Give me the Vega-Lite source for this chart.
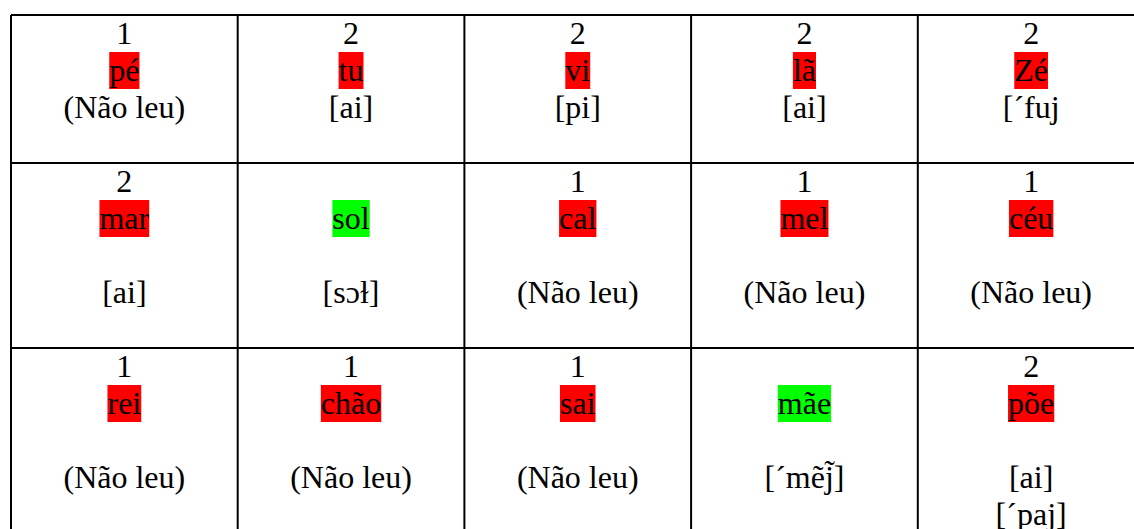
{
  "$schema": "https://vega.github.io/schema/vega-lite/v6.json",
  "width": 1134,
  "height": 529,
  "autosize": {"type": "none"},
  "padding": 0,
  "background": "white",
  "config": {"view": {"stroke": null}},
  "datasets": {
    "grade": [
      {"x0": 0.5, "x1": 0.5, "y0": 0.5, "y1": 15},
      {"x0": 1.5, "x1": 1.5, "y0": 0.5, "y1": 15},
      {"x0": 2.5, "x1": 2.5, "y0": 0.5, "y1": 15},
      {"x0": 3.5, "x1": 3.5, "y0": 0.5, "y1": 15},
      {"x0": 4.5, "x1": 4.5, "y0": 0.5, "y1": 15},
      {"x0": 0.5, "x1": 6, "y0": 0.5, "y1": 0.5},
      {"x0": 0.5, "x1": 6, "y0": 4.5, "y1": 4.5},
      {"x0": 0.5, "x1": 6, "y0": 9.5, "y1": 9.5}
    ],
    "celulas": [
      {"col": 1, "linha": 1, "texto": "1"},
      {"col": 1, "linha": 2, "texto": "pé", "status": "erro"},
      {"col": 1, "linha": 3, "texto": "(Não leu)"},
      {"col": 2, "linha": 1, "texto": "2"},
      {"col": 2, "linha": 2, "texto": "tu", "status": "erro"},
      {"col": 2, "linha": 3, "texto": "[ai]"},
      {"col": 3, "linha": 1, "texto": "2"},
      {"col": 3, "linha": 2, "texto": "vi", "status": "erro"},
      {"col": 3, "linha": 3, "texto": "[pi]"},
      {"col": 4, "linha": 1, "texto": "2"},
      {"col": 4, "linha": 2, "texto": "lã", "status": "erro"},
      {"col": 4, "linha": 3, "texto": "[ai]"},
      {"col": 5, "linha": 1, "texto": "2"},
      {"col": 5, "linha": 2, "texto": "Zé", "status": "erro"},
      {"col": 5, "linha": 3, "texto": "[´fuj"},
      {"col": 1, "linha": 5, "texto": "2"},
      {"col": 1, "linha": 6, "texto": "mar", "status": "erro"},
      {"col": 1, "linha": 8, "texto": "[ai]"},
      {"col": 2, "linha": 6, "texto": "sol", "status": "acerto"},
      {"col": 2, "linha": 8, "texto": "[sɔɫ]"},
      {"col": 3, "linha": 5, "texto": "1"},
      {"col": 3, "linha": 6, "texto": "cal", "status": "erro"},
      {"col": 3, "linha": 8, "texto": "(Não leu)"},
      {"col": 4, "linha": 5, "texto": "1"},
      {"col": 4, "linha": 6, "texto": "mel", "status": "erro"},
      {"col": 4, "linha": 8, "texto": "(Não leu)"},
      {"col": 5, "linha": 5, "texto": "1"},
      {"col": 5, "linha": 6, "texto": "céu", "status": "erro"},
      {"col": 5, "linha": 8, "texto": "(Não leu)"},
      {"col": 1, "linha": 10, "texto": "1"},
      {"col": 1, "linha": 11, "texto": "rei", "status": "erro"},
      {"col": 1, "linha": 13, "texto": "(Não leu)"},
      {"col": 2, "linha": 10, "texto": "1"},
      {"col": 2, "linha": 11, "texto": "chão", "status": "erro"},
      {"col": 2, "linha": 13, "texto": "(Não leu)"},
      {"col": 3, "linha": 10, "texto": "1"},
      {"col": 3, "linha": 11, "texto": "sai", "status": "erro"},
      {"col": 3, "linha": 13, "texto": "(Não leu)"},
      {"col": 4, "linha": 11, "texto": "mãe", "status": "acerto"},
      {"col": 4, "linha": 13, "texto": "[´mẽj̃]"},
      {"col": 5, "linha": 10, "texto": "2"},
      {"col": 5, "linha": 11, "texto": "põe", "status": "erro"},
      {"col": 5, "linha": 13, "texto": "[ai]"},
      {"col": 5, "linha": 14, "texto": "[´paj]"}
    ]
  },
  "layer": [
    {
      "data": {"name": "celulas"},
      "transform": [
        {"filter": "isValid(datum.status)"},
        {"calculate": "datum.linha - 0.5", "as": "topo"},
        {"calculate": "datum.linha + 0.5", "as": "base"},
        {"calculate": "32 * ((length(datum.texto) > 0 ? [0.5,0.444,0.278,0.5,0.5,0.278,0.278,0.444,0.611,0.778,0.444,0.333,0.389,0.5,0.444,0.444,0.5,0.5][indexof('pétuvilãZmarsocehõ', substring(datum.texto, 0, 1))] : 0) + (length(datum.texto) > 1 ? [0.5,0.444,0.278,0.5,0.5,0.278,0.278,0.444,0.611,0.778,0.444,0.333,0.389,0.5,0.444,0.444,0.5,0.5][indexof('pétuvilãZmarsocehõ', substring(datum.texto, 1, 2))] : 0) + (length(datum.texto) > 2 ? [0.5,0.444,0.278,0.5,0.5,0.278,0.278,0.444,0.611,0.778,0.444,0.333,0.389,0.5,0.444,0.444,0.5,0.5][indexof('pétuvilãZmarsocehõ', substring(datum.texto, 2, 3))] : 0) + (length(datum.texto) > 3 ? [0.5,0.444,0.278,0.5,0.5,0.278,0.278,0.444,0.611,0.778,0.444,0.333,0.389,0.5,0.444,0.444,0.5,0.5][indexof('pétuvilãZmarsocehõ', substring(datum.texto, 3, 4))] : 0))", "as": "largura"}
      ],
      "mark": {"type": "bar", "clip": true},
      "encoding": {
        "x": {"field": "col", "type": "quantitative", "scale": {"domain": [0.4515, 5.4537], "nice": false, "zero": false, "padding": 0}, "axis": null},
        "y": {"field": "topo", "type": "quantitative", "scale": {"domain": [0.0946, 14.392], "nice": false, "zero": false, "reverse": true, "padding": 0}, "axis": null},
        "y2": {"field": "base"},
        "size": {"field": "largura", "type": "quantitative", "scale": null},
        "color": {"field": "status", "type": "nominal", "scale": {"domain": ["erro", "acerto"], "range": ["#ff0000", "#00ff00"]}, "legend": null}
      }
    },
    {
      "data": {"name": "grade"},
      "mark": {"type": "rule", "color": "black", "strokeWidth": 2, "clip": true},
      "encoding": {
        "x": {"field": "x0", "type": "quantitative", "axis": null},
        "x2": {"field": "x1"},
        "y": {"field": "y0", "type": "quantitative", "axis": null},
        "y2": {"field": "y1"}
      }
    },
    {
      "data": {"name": "celulas"},
      "mark": {"type": "text", "font": "Liberation Serif", "fontSize": 32, "color": "black", "align": "center", "baseline": "alphabetic", "dy": 11, "clip": true},
      "encoding": {
        "x": {"field": "col", "type": "quantitative", "axis": null},
        "y": {"field": "linha", "type": "quantitative", "axis": null},
        "text": {"field": "texto", "type": "nominal"}
      }
    }
  ]
}
